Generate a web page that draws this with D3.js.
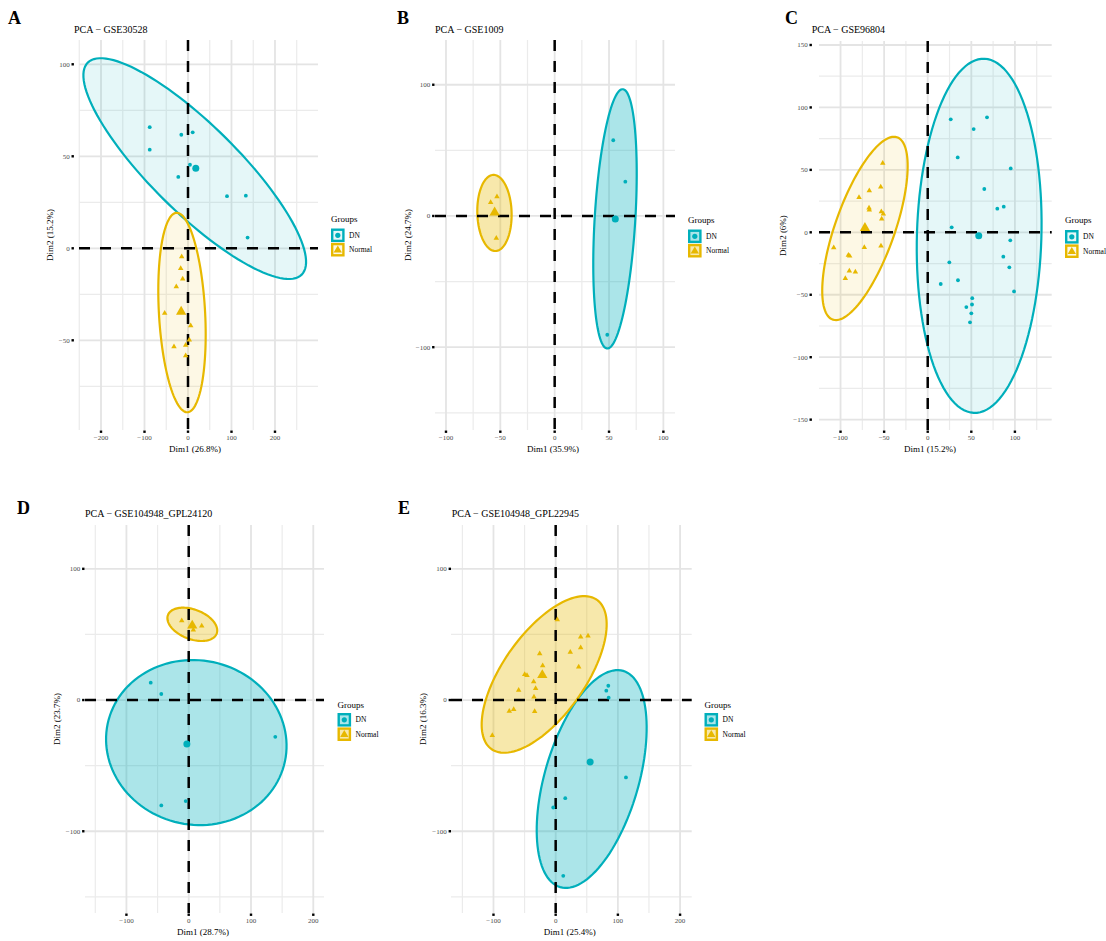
<!DOCTYPE html>
<html>
<head>
<meta charset="utf-8">
<script src="https://cdn.jsdelivr.net/npm/d3@7"></script>
<style>
  html, body { margin: 0; padding: 0; background: #fff; }
  svg { display: block; font-family: "Liberation Serif", "DejaVu Serif", serif; }
</style>
</head>
<body>
<svg id="fig" width="1106" height="941"></svg>
<script>
// ---------------- data ----------------
const groups = ["DN", "Normal"];
const groupColors = ["#00AFBB", "#E7B800"];

const panelLetters = ["A", "B", "C", "D", "E"];
const panelTitles = [
  "PCA \u2212 GSE30528",
  "PCA \u2212 GSE1009",
  "PCA \u2212 GSE96804",
  "PCA \u2212 GSE104948_GPL24120",
  "PCA \u2212 GSE104948_GPL22945"
];
const dim1Labels = ["Dim1 (26.8%)", "Dim1 (35.9%)", "Dim1 (15.2%)", "Dim1 (28.7%)", "Dim1 (25.4%)"];
const dim2Labels = ["Dim2 (15.2%)", "Dim2 (24.7%)", "Dim2 (6%)", "Dim2 (23.7%)", "Dim2 (16.3%)"];

// A: GSE30528
const aDN_x = [-88, -88, -15.4, 10.8, 4.6, -22.3, 89.7, 133, 137];
const aDN_y = [65.8, 53.6, 61.7, 63, 45.4, 38.8, 28.3, 28.6, 5.8];
const aNormal_x = [-14.5, -16.8, -12.2, -26.9, -53.6, 6.2, 3, -5.3, -32.2, -5.3];
const aNormal_y = [-4.6, -10.9, -16.7, -20.9, -35.3, -42.1, -49.8, -52.7, -53.5, -58.4];
// ellipse statistics: [centre x, centre y, half-range x, half-range y, correlation]
const aEllipseDN = [15.5, 43.3, 256, 60, -0.845];
const aEllipseNormal = [-13.8, -34.9, 54.5, 54.2, -0.22];
const aXTicks = [-200, -100, 0, 100, 200];
const aYTicks = [-50, 0, 50, 100];
const aXLimits = [-250.6, 298.9];
const aYLimits = [-98.75, 113.2];

// B: GSE1009
const bDN_x = [53.9, 65, 48.4];
const bDN_y = [57.7, 26.1, -90.5];
const bNormal_x = [-53.1, -58.9, -53.7];
const bNormal_y = [14.7, 10.4, -17];
const bEllipseDN = [55.5, -2.2, 20, 98.8, 0.35];
const bEllipseNormal = [-55.4, 2.3, 15.8, 29, -0.05];
const bXTicks = [-100, -50, 0, 50, 100];
const bYTicks = [-100, 0, 100];
const bXLimits = [-110.1, 110.7];
const bYLimits = [-163.1, 134.1];

// C: GSE96804
const cDN_x = [26.4, 68, 52.7, 34.4, 95.2, 64.9, 79.8, 87.2, 27.5, 94.7, 24.8, 86.7, 93.6, 14.9, 34.7, 99, 51.1, 44.3, 50.8, 50, 48.5];
const cDN_y = [90.5, 92.1, 82.7, 60, 51.2, 34.7, 18.9, 20.5, 4, -6.4, -24, -19.5, -28, -41.4, -38.4, -47.3, -52.7, -59.9, -57.8, -64.9, -72.1];
const cNormal_x = [-51.6, -67, -53.9, -78.8, -67.3, -67, -53.2, -50.9, -52.8, -107.8, -72.7, -53.6, -91, -89.5, -89.9, -83, -94.5];
const cNormal_y = [55.3, 33.3, 36.3, 28, 19.5, 17.9, 16.5, 14.7, 10.7, -12.3, -12, -10.9, -18.2, -19, -31, -31.8, -36.9];
const cEllipseDN = [59, -2.8, 71.6, 141.8, 0.07];
const cEllipseNormal = [-72, 3.1, 49, 73.4, 0.68];
const cXTicks = [-100, -50, 0, 50, 100];
const cYTicks = [-150, -100, -50, 0, 50, 100, 150];
const cXLimits = [-124.7, 142.2];
const cYLimits = [-158.3, 153.2];

// D: GSE104948_GPL24120
const dDN_x = [-61, -44, 139, -44, -4.8];
const dDN_y = [13.2, 4.6, -28, -80.3, -77];
const dNormal_x = [-11.2, 20.9, 7.4];
const dNormal_y = [60.4, 56.4, 53.4];
const dEllipseDN = [12.2, -32.4, 144.9, 62.9, -0.04];
const dEllipseNormal = [5.8, 57.7, 40, 12.7, -0.37];
const dXTicks = [-100, 0, 100, 200];
const dYTicks = [-100, 0, 100];
const dXLimits = [-166.5, 217.2];
const dYLimits = [-162.3, 133.4];

// E: GSE104948_GPL22945
const eDN_x = [84.6, 81.4, 85.2, 113, 15.4, -3.9, 12.2];
const eDN_y = [10.9, 7.1, 1.8, -59, -74.8, -81.9, -134];
const eNormal_x = [2.6, 40.2, 52, 23.5, 40.2, -25.7, -20.9, 37, -49.8, -46.1, -35.4, -59.5, -32.2, -34.9, -74.6, -67.5, -33.8, -101.9];
const eNormal_y = [61.3, 48.1, 48.9, 36.4, 39.9, 35.3, 26.2, 25.2, 19.6, 18.8, 14, 7.6, 8.9, 2.3, -8.4, -7.1, -8.6, -26.9];
const eEllipseDN = [57.9, -60.2, 88.4, 83, 0.47];
const eEllipseNormal = [-18.5, 19.5, 100.5, 59.7, 0.64];
const eXTicks = [-100, 0, 100, 200];
const eYTicks = [-100, 0, 100];
const eXLimits = [-168.3, 218.7];
const eYLimits = [-162.3, 133.4];

// ---------------- layout ----------------
// box: [left, top, width, height] of the plotting panel
const layouts = [
  { box: [79, 40, 239, 390],    letter: [8, 24],   title: [74, 33.3],   yTickGap: 6.3, xTitleX: 195, yTitleX: 50,    legend: [331, 222, 228.5], fillAlpha: 0.1 },
  { box: [435, 40, 240, 390],   letter: [397, 24], title: [435, 33.3],  yTickGap: 1.7, xTitleX: 553, yTitleX: 408.3, legend: [688, 223, 229.5], fillAlpha: 0.33 },
  { box: [819, 41, 232.7, 389], letter: [785, 24], title: [811.7, 33.3],yTickGap: 8.3, xTitleX: 930, yTitleX: 783.3, legend: [1065, 223, 230], fillAlpha: 0.1 },
  { box: [85, 525, 239, 388],   letter: [17, 514], title: [85, 517.3],  yTickGap: 1.7, xTitleX: 203, yTitleX: 56.7,  legend: [337.5, 707.5, 713], fillAlpha: 0.33 },
  { box: [451, 525, 240.7, 388],letter: [398, 514],title: [451.7, 517.3],yTickGap: 1.2, xTitleX: 569.7, yTitleX: 423.3, legend: [704.5, 707.5, 713], fillAlpha: 0.33 }
];

const panels = [
  { dn: [aDN_x, aDN_y], normal: [aNormal_x, aNormal_y], ell: [aEllipseDN, aEllipseNormal], xt: aXTicks, yt: aYTicks, xl: aXLimits, yl: aYLimits },
  { dn: [bDN_x, bDN_y], normal: [bNormal_x, bNormal_y], ell: [bEllipseDN, bEllipseNormal], xt: bXTicks, yt: bYTicks, xl: bXLimits, yl: bYLimits },
  { dn: [cDN_x, cDN_y], normal: [cNormal_x, cNormal_y], ell: [cEllipseDN, cEllipseNormal], xt: cXTicks, yt: cYTicks, xl: cXLimits, yl: cYLimits },
  { dn: [dDN_x, dDN_y], normal: [dNormal_x, dNormal_y], ell: [dEllipseDN, dEllipseNormal], xt: dXTicks, yt: dYTicks, xl: dXLimits, yl: dYLimits },
  { dn: [eDN_x, eDN_y], normal: [eNormal_x, eNormal_y], ell: [eEllipseDN, eEllipseNormal], xt: eXTicks, yt: eYTicks, xl: eXLimits, yl: eYLimits }
];

// ---------------- drawing ----------------
const svg = d3.select("#fig");
const fmt = v => (v < 0 ? "\u2212" + Math.abs(v) : String(v));

function minorBreaks(ticks, lim) {
  const step = ticks[1] - ticks[0];
  const out = [];
  for (let v = ticks[0] - step / 2; v <= ticks[ticks.length - 1] + step; v += step) {
    if (v >= lim[0] && v <= lim[1]) out.push(v);
  }
  return out;
}

function ellipsePoints(e, x, y) {
  const [cx, cy, hx, hy, r] = e;
  const d = Math.acos(Math.max(-1, Math.min(1, r)));
  return d3.range(0, 121).map(i => {
    const a = 2 * Math.PI * i / 120;
    return [x(cx + hx * Math.cos(a + d / 2)), y(cy + hy * Math.cos(a - d / 2))];
  });
}

const triangle = size => d3.symbol().type(d3.symbolTriangle).size(size)();

function drawPanel(p, L, i) {
  const [left, top, w, h] = L.box;
  const x = d3.scaleLinear().domain(p.xl).range([left, left + w]);
  const y = d3.scaleLinear().domain(p.yl).range([top + h, top]);
  const g = svg.append("g");

  // letter and title
  g.append("text").attr("x", L.letter[0]).attr("y", L.letter[1])
    .attr("font-size", 18).attr("font-weight", "bold").text(panelLetters[i]);
  g.append("text").attr("x", L.title[0]).attr("y", L.title[1])
    .attr("font-size", 10).text(panelTitles[i]);

  // grid
  const grid = g.append("g");
  minorBreaks(p.xt, p.xl).forEach(v => grid.append("line")
    .attr("x1", x(v)).attr("x2", x(v)).attr("y1", top).attr("y2", top + h)
    .attr("stroke", "#EBEBEB").attr("stroke-width", 1.2));
  minorBreaks(p.yt, p.yl).forEach(v => grid.append("line")
    .attr("y1", y(v)).attr("y2", y(v)).attr("x1", left).attr("x2", left + w)
    .attr("stroke", "#EBEBEB").attr("stroke-width", 1.2));
  p.xt.forEach(v => grid.append("line")
    .attr("x1", x(v)).attr("x2", x(v)).attr("y1", top).attr("y2", top + h)
    .attr("stroke", "#E4E4E4").attr("stroke-width", 1.8));
  p.yt.forEach(v => grid.append("line")
    .attr("y1", y(v)).attr("y2", y(v)).attr("x1", left).attr("x2", left + w)
    .attr("stroke", "#E4E4E4").attr("stroke-width", 1.8));

  // axis ticks and labels
  const xTickY = top + h + 1.7;
  p.xt.forEach(v => {
    g.append("rect").attr("x", x(v) - 1.2).attr("y", xTickY - 1.2).attr("width", 2.4).attr("height", 2.4).attr("fill", "#000");
    g.append("text").attr("x", x(v)).attr("y", xTickY + 8.5).attr("text-anchor", "middle")
      .attr("font-size", 7).attr("fill", "#4D4D4D").text(fmt(v));
  });
  const yTickX = left - L.yTickGap;
  p.yt.forEach(v => {
    g.append("rect").attr("x", yTickX - 1.2).attr("y", y(v) - 1.2).attr("width", 2.4).attr("height", 2.4).attr("fill", "#000");
    g.append("text").attr("x", yTickX - 3).attr("y", y(v) + 2.4).attr("text-anchor", "end")
      .attr("font-size", 7).attr("fill", "#4D4D4D").text(fmt(v));
  });

  // axis titles
  g.append("text").attr("x", L.xTitleX).attr("y", top + h + 22)
    .attr("text-anchor", "middle").attr("font-size", 9).text(dim1Labels[i]);
  g.append("text").attr("transform", `translate(${L.yTitleX + 3},${top + h / 2}) rotate(-90)`)
    .attr("text-anchor", "middle").attr("font-size", 9).text(dim2Labels[i]);

  // ellipses
  const ellG = g.append("g");
  p.ell.forEach((e, k) => {
    ellG.append("path").attr("d", d3.line()(ellipsePoints(e, x, y)) + "Z")
      .attr("fill", groupColors[k]).attr("fill-opacity", L.fillAlpha)
      .attr("stroke", groupColors[k]).attr("stroke-width", 2.2);
  });

  // reference lines at the origin
  g.append("line").attr("x1", left).attr("x2", left + w).attr("y1", y(0)).attr("y2", y(0))
    .attr("stroke", "#000").attr("stroke-width", 2.5).attr("stroke-dasharray", "11,10");
  g.append("line").attr("y1", top).attr("y2", top + h).attr("x1", x(0)).attr("x2", x(0))
    .attr("stroke", "#000").attr("stroke-width", 2.5).attr("stroke-dasharray", "11,10");

  // individuals and group means
  const ptG = g.append("g");
  const sets = [p.dn, p.normal];
  sets.forEach((s, k) => {
    const xs = s[0], ys = s[1];
    xs.forEach((xv, j) => {
      if (k === 0) {
        ptG.append("circle").attr("cx", x(xv)).attr("cy", y(ys[j])).attr("r", 1.9).attr("fill", groupColors[k]);
      } else {
        ptG.append("path").attr("d", triangle(13)).attr("transform", `translate(${x(xv)},${y(ys[j])})`).attr("fill", groupColors[k]);
      }
    });
    const mx = d3.mean(xs), my = d3.mean(ys);
    if (k === 0) {
      ptG.append("circle").attr("cx", x(mx)).attr("cy", y(my)).attr("r", 3.5).attr("fill", groupColors[k]);
    } else {
      ptG.append("path").attr("d", triangle(46)).attr("transform", `translate(${x(mx)},${y(my)})`).attr("fill", groupColors[k]);
    }
  });

  // legend
  const [lx, lTitleY, lKeyTop] = L.legend;
  const key = 13.6;
  g.append("text").attr("x", lx).attr("y", lTitleY).attr("font-size", 9).text("Groups");
  groups.forEach((name, k) => {
    const ky = lKeyTop + k * (key + 0.8);
    g.append("rect").attr("x", lx + 1.2).attr("y", ky + 1.2).attr("width", key - 2.4).attr("height", key - 2.4)
      .attr("fill", groupColors[k]).attr("fill-opacity", L.fillAlpha)
      .attr("stroke", groupColors[k]).attr("stroke-width", 2.4);
    const cxk = lx + key / 2, cyk = ky + key / 2;
    if (k === 0) {
      g.append("circle").attr("cx", cxk).attr("cy", cyk).attr("r", 2.6).attr("fill", groupColors[k]);
    } else {
      g.append("path").attr("d", triangle(30)).attr("transform", `translate(${cxk},${cyk + 0.5})`).attr("fill", groupColors[k]);
    }
    g.append("text").attr("x", lx + key + 4.5).attr("y", cyk + 2.6).attr("font-size", 7.5).text(name);
  });
}

panels.forEach((p, i) => drawPanel(p, layouts[i], i));
</script>
</body>
</html>
